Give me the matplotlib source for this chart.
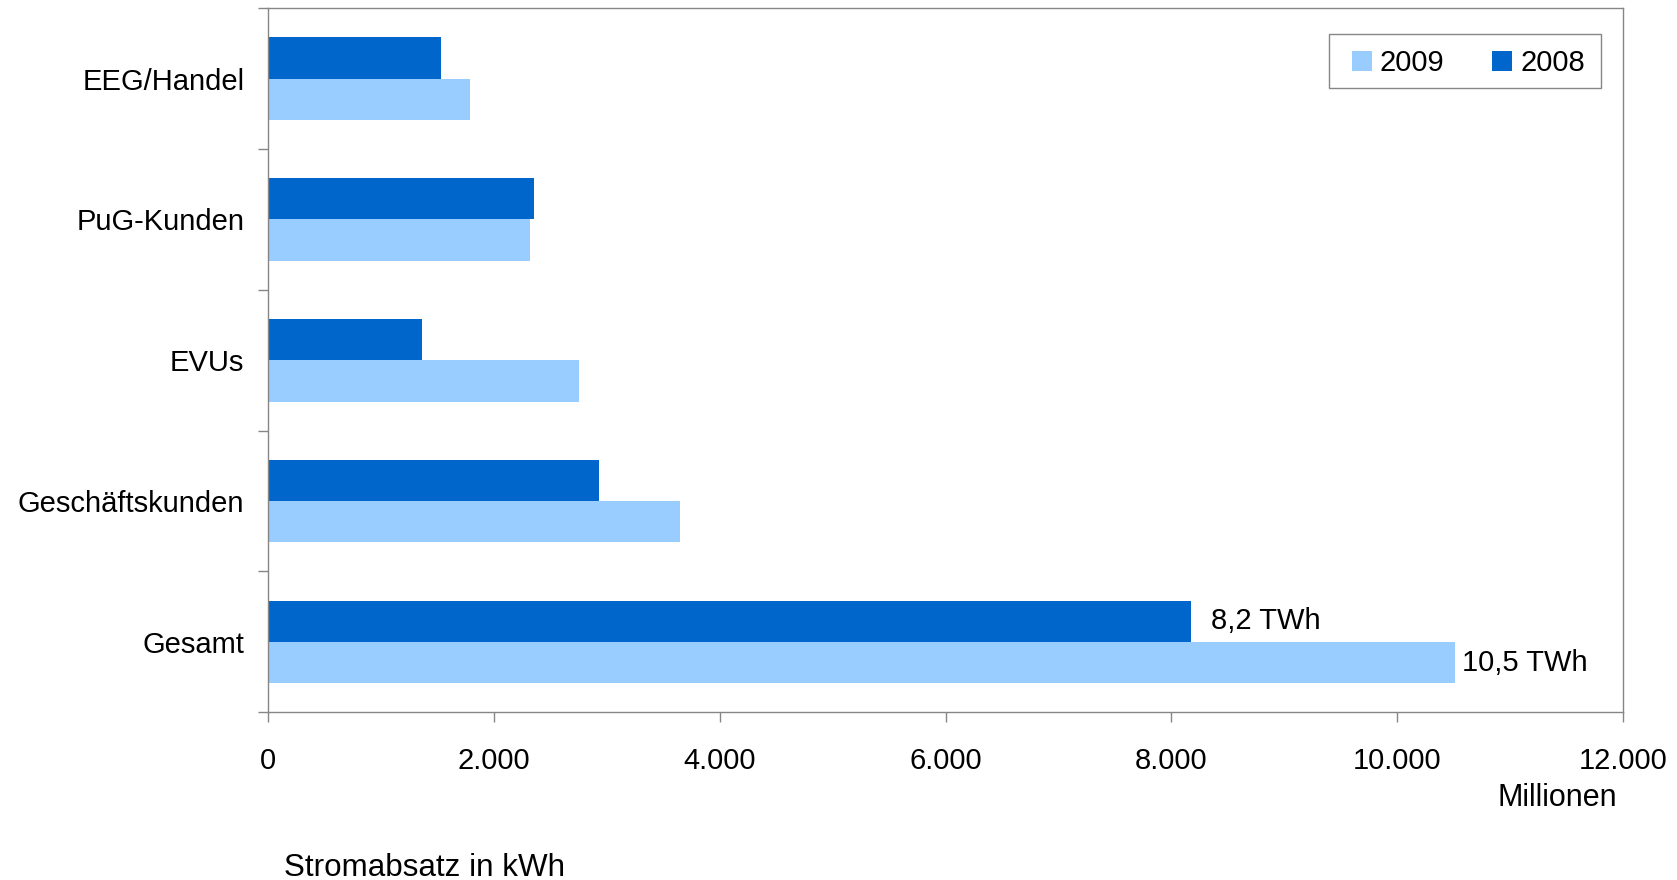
import matplotlib
matplotlib.use("Agg")
import matplotlib.pyplot as plt
from matplotlib.ticker import FuncFormatter, FixedLocator
from matplotlib.patches import Rectangle
import numpy as np

plt.rcParams['font.family'] = ['Liberation Sans', 'DejaVu Sans']

categories = ["EEG/Handel", "PuG-Kunden", "EVUs", "Geschäftskunden", "Gesamt"]
values_2008 = [1530, 2353, 1360, 2930, 8172]
values_2009 = [1786, 2317, 2751, 3648, 10514]
series_names = ["2009", "2008"]
bar_labels_2008 = {4: "8,2 TWh"}
bar_labels_2009 = {4: "10,5 TWh"}
x_ticks = [0, 2000, 4000, 6000, 8000, 10000, 12000]

c2008 = "#0066CC"
c2009 = "#99CCFF"
grey = "#868686"

W, H = 1677, 880
fig = plt.figure(figsize=(W / 100, H / 100), dpi=100)
ax = fig.add_axes([268.3 / W, 1 - 712.3 / H, (1622.7 - 268.3) / W, (712.3 - 8.3) / H])

y = np.arange(len(categories))
h = 0.293
b08 = ax.barh(y - h / 2, values_2008, height=h, color=c2008, label="2008")
b09 = ax.barh(y + h / 2, values_2009, height=h, color=c2009, label="2009")

ax.set_ylim(len(categories) - 0.5, -0.5)
ax.set_xlim(0, 12000)

fs = 21
ax.set_yticks(y)
ax.set_yticklabels(categories, fontsize=fs)
ax.tick_params(axis='y', which='major', length=0, pad=17.3)
ax.yaxis.set_minor_locator(FixedLocator(np.arange(-0.5, len(categories), 1.0)))
ax.tick_params(axis='y', which='minor', length=7.2, width=1.0, color=grey, direction='out')

ax.set_xticks(x_ticks)
ax.xaxis.set_major_formatter(FuncFormatter(lambda v, p: f"{int(v):,}".replace(",", ".")))
ax.tick_params(axis='x', which='major', length=7.2, width=1.0, color=grey, direction='out',
               labelsize=fs, pad=17.5)

for s in ax.spines.values():
    s.set_color(grey)
    s.set_linewidth(1.0)

for i, t in bar_labels_2008.items():
    ax.annotate(t, (values_2008[i], y[i] - h / 2), xytext=(15, 0), textcoords='offset points',
                va='center', ha='left', fontsize=fs)
for i, t in bar_labels_2009.items():
    ax.annotate(t, (values_2009[i], y[i] + h / 2), xytext=(5, 0), textcoords='offset points',
                va='center', ha='left', fontsize=fs)

leg = ax.legend(handles=[b09, b08], labels=series_names, ncol=2, loc='upper right',
                bbox_to_anchor=(1598 / W, 1 - 36 / H), bbox_transform=fig.transFigure,
                fontsize=fs, frameon=False,
                handlelength=0.67, handleheight=0.67, handletextpad=0.28,
                columnspacing=1.65, borderpad=0.45, borderaxespad=0)
# legend frame
fig.patches.append(Rectangle((1328.5 / W, 1 - 88.3 / H), (1600.7 - 1328.5) / W, (88.3 - 34.3) / H,
                             transform=fig.transFigure, fill=False, edgecolor=grey, linewidth=1.0))

fig.text(1617 / W, 1 - 806 / H, "Millionen", ha='right', va='baseline', fontsize=22)
fig.text(284 / W, 1 - 876 / H, "Stromabsatz in kWh", ha='left', va='baseline', fontsize=22.6)

fig.savefig("out.png", dpi=100, facecolor='white')
